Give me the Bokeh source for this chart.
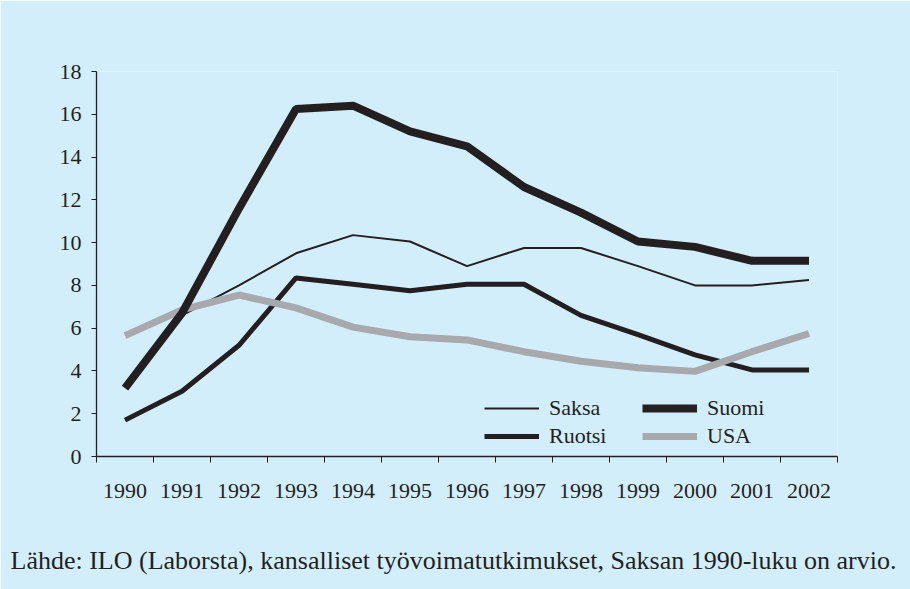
from bokeh.plotting import figure
from bokeh.models import (Range1d, FixedTicker, Legend, LegendItem, Title)
from bokeh.embed import file_html
from bokeh.resources import INLINE

years = [1990, 1991, 1992, 1993, 1994, 1995, 1996, 1997, 1998, 1999, 2000, 2001, 2002]
saksa_years = [1991, 1992, 1993, 1994, 1995, 1996, 1997, 1998, 1999, 2000, 2001, 2002]
saksa = [6.6, 8.0, 9.5, 10.35, 10.05, 8.9, 9.75, 9.75, 8.9, 8.0, 8.0, 8.25]
suomi = [3.2, 6.7, 11.6, 16.25, 16.4, 15.2, 14.5, 12.6, 11.4, 10.05, 9.8, 9.15, 9.15]
ruotsi = [1.7, 3.05, 5.2, 8.35, 8.05, 7.75, 8.05, 8.05, 6.6, 5.7, 4.75, 4.05, 4.05]
usa = [5.65, 6.85, 7.55, 6.95, 6.05, 5.6, 5.45, 4.9, 4.45, 4.15, 3.98, 4.9, 5.75]
y_ticks = [0, 2, 4, 6, 8, 10, 12, 14, 16, 18]
source_text = "Lähde: ILO (Laborsta), kansalliset työvoimatutkimukset, Saksan 1990-luku on arvio."

BG = "#D3EEFB"
INK = "#231F20"
GREY = "#A7A9AC"
FONT = "Liberation Serif"

p = figure(width=910, height=589, output_backend="svg", toolbar_location=None,
           x_range=Range1d(1989.5, 2002.5), y_range=Range1d(0, 18),
           min_border_left=96, min_border_right=73, min_border_top=71, min_border_bottom=132)
p.background_fill_color = BG
p.border_fill_color = BG
p.outline_line_color = None
p.grid.visible = False

r_saksa = p.line(saksa_years, saksa, line_color=INK, line_width=2)
r_ruotsi = p.line(years, ruotsi, line_color=INK, line_width=5)
r_usa = p.line(years, usa, line_color=GREY, line_width=7)
r_suomi = p.line(years, suomi, line_color=INK, line_width=8)

xa = p.xaxis[0]
xa.ticker = FixedTicker(ticks=years, minor_ticks=[y - 0.5 for y in years] + [2002.5])
xa.major_tick_out = 0
xa.major_tick_in = 0
xa.minor_tick_out = 6
xa.minor_tick_in = 0
xa.minor_tick_line_color = INK
xa.axis_line_color = INK
xa.axis_line_width = 1.3
xa.major_label_standoff = 21
xa.major_label_text_font = FONT
xa.major_label_text_font_size = "22px"
xa.major_label_text_color = INK

ya = p.yaxis[0]
ya.ticker = FixedTicker(ticks=y_ticks, minor_ticks=[])
ya.major_tick_out = 5
ya.major_tick_in = 0
ya.major_tick_line_color = INK
ya.axis_line_color = INK
ya.axis_line_width = 1.3
ya.major_label_standoff = 10
ya.major_label_text_font = FONT
ya.major_label_text_font_size = "22px"
ya.major_label_text_color = INK

def make_legend(items, loc):
    lg = Legend(items=items, location=loc, orientation="vertical")
    lg.background_fill_alpha = 0
    lg.border_line_color = None
    lg.padding = 0
    lg.margin = 0
    lg.spacing = 2
    lg.glyph_width = 55
    lg.glyph_height = 20
    lg.label_height = 20
    lg.label_standoff = 10
    lg.label_text_font = FONT
    lg.label_text_font_size = "22px"
    lg.label_text_color = INK
    return lg

leg1 = make_legend([LegendItem(label="Saksa", renderers=[r_saksa]),
                    LegendItem(label="Ruotsi", renderers=[r_ruotsi])], (388, 7))
leg2 = make_legend([LegendItem(label="Suomi", renderers=[r_suomi]),
                    LegendItem(label="USA", renderers=[r_usa])], (546, 7))
p.add_layout(leg1)
p.add_layout(leg2)

src = Title(text="\n" + source_text, align="left", offset=-86, standoff=29,
            text_font=FONT, text_font_size="26px", text_color=INK,
            text_font_style="normal")
p.add_layout(src, "below")

open("out.html", "w").write(file_html(p, INLINE))
